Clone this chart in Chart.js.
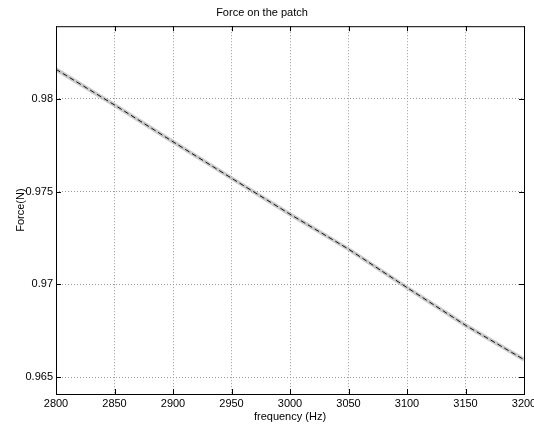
<!DOCTYPE html>
<html>
<head>
<meta charset="utf-8">
<script src="https://cdn.jsdelivr.net/npm/chart.js@4"></script>
<style>
  html, body { margin: 0; padding: 0; background: #fff; }
  #wrap { width: 534px; height: 424px; }
</style>
</head>
<body>
<div id="wrap"><canvas id="canvas"></canvas></div>
<script>
var frequency = [2800, 2850, 2900, 2950, 3000, 3050, 3100, 3150, 3200];
var force = [0.98158, 0.97966, 0.97768, 0.97572, 0.97378, 0.97190, 0.96983, 0.96780, 0.96595];
var xTicks = [2800, 2850, 2900, 2950, 3000, 3050, 3100, 3150, 3200];
var yTicks = [0.965, 0.97, 0.975, 0.98];

var points = frequency.map(function (f, i) { return { x: f, y: force[i] }; });

// box round the plot plus small inward tick marks
var frame = {
    id: 'frame',
    afterDraw: function (chart) {
        var ctx = chart.ctx, a = chart.chartArea;
        var xs = chart.scales.x, ys = chart.scales.y;
        ctx.save();
        ctx.strokeStyle = '#000';
        ctx.lineWidth = 1;
        ctx.strokeRect(a.left + 0.5, a.top + 0.5, a.right - a.left, a.bottom - a.top);
        ctx.beginPath();
        xTicks.forEach(function (t) {
            var px = Math.round(xs.getPixelForValue(t)) + 0.5;
            ctx.moveTo(px, a.bottom); ctx.lineTo(px, a.bottom - 5);
            ctx.moveTo(px, a.top); ctx.lineTo(px, a.top + 5);
        });
        yTicks.forEach(function (t) {
            var py = Math.round(ys.getPixelForValue(t)) + 0.5;
            ctx.moveTo(a.left, py); ctx.lineTo(a.left + 5, py);
            ctx.moveTo(a.right, py); ctx.lineTo(a.right - 5, py);
        });
        ctx.stroke();
        ctx.restore();
    }
};

var font = { family: 'Liberation Sans, Arial, sans-serif', size: 11, weight: 'normal' };
var plain = function (v) { return String(v); };

new Chart(document.getElementById('canvas').getContext('2d'), {
    type: 'scatter',
    data: {
        datasets: [
            {
                // dashed trace on top
                data: points,
                showLine: true,
                borderColor: '#111',
                borderWidth: 1,
                borderDash: [5, 3],
                pointRadius: 0,
                lineTension: 0,
                order: 0
            }, {
                data: points,
                showLine: true,
                borderColor: 'rgba(170,170,170,0.6)',
                borderWidth: 4,
                pointRadius: 0,
                lineTension: 0,
                order: 1
            }
        ]
    },
    options: {
        responsive: true,
        maintainAspectRatio: false,
        animation: false,
        layout: { padding: { left: 0, right: 10, top: 0, bottom: 0 } },
        plugins: {
            legend: { display: false },
            tooltip: { enabled: false },
            title: {
                display: true,
                text: 'Force on the patch',
                color: '#000',
                font: font,
                padding: { top: 6, bottom: 7 }
            }
        },
        scales: {
            x: {
                type: 'linear',
                min: 2800,
                max: 3200,
                afterBuildTicks: function (s) { s.ticks = xTicks.map(function (v) { return { value: v }; }); },
                afterFit: function (s) { s.height = 30; s.paddingLeft = 0; s.paddingRight = 0; },
                ticks: { color: '#000', font: font, padding: 3, maxRotation: 0, callback: plain },
                grid: { color: '#999', borderDash: [1, 2], drawTicks: false },
                border: { display: false, dash: [1, 2] },
                title: { display: true, text: 'frequency (Hz)', color: '#000', font: font, padding: 0 }
            },
            y: {
                min: 0.9641,
                max: 0.9839,
                afterBuildTicks: function (s) { s.ticks = yTicks.map(function (v) { return { value: v }; }); },
                afterFit: function (s) { s.width = 56; s.paddingTop = 0; s.paddingBottom = 0; },
                ticks: { color: '#000', font: font, padding: 3, callback: plain },
                grid: { color: '#999', borderDash: [1, 2], drawTicks: false },
                border: { display: false, dash: [1, 2] },
                title: { display: true, text: 'Force(N)', color: '#000', font: font, padding: { top: 14, bottom: 4 } }
            }
        }
    },
    plugins: [frame]
});
</script>
</body>
</html>
